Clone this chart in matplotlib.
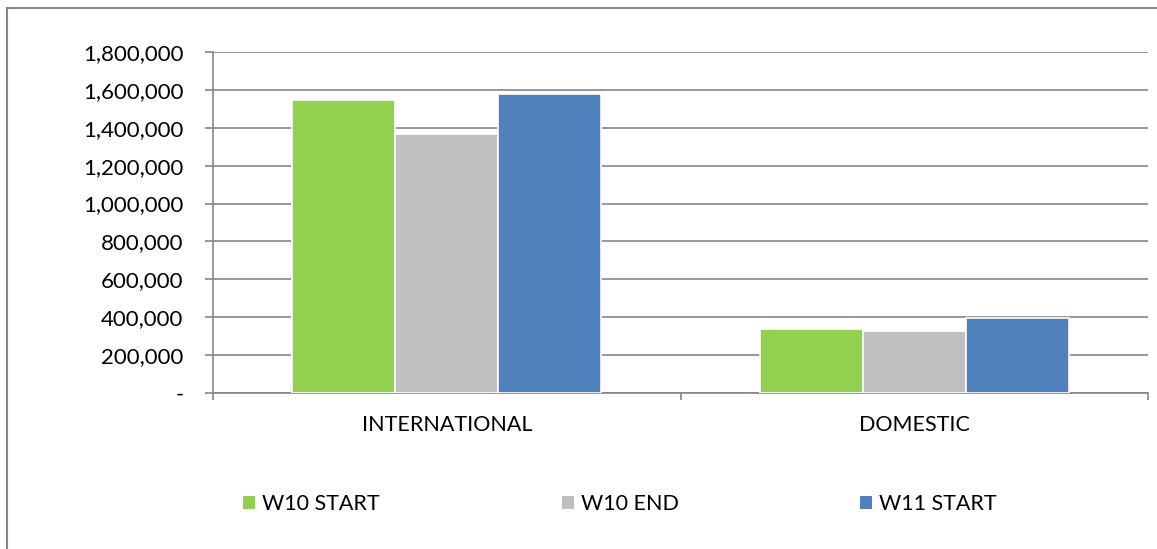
import numpy as np
import matplotlib.pyplot as plt
from matplotlib.lines import Line2D
from matplotlib.patches import Patch
from matplotlib.ticker import FuncFormatter

plt.rcParams['font.family'] = ['Lato', 'DejaVu Sans']

categories = ['INTERNATIONAL', 'DOMESTIC']
series_names = ['W10 START', 'W10 END', 'W11 START']
w10_start = [1546000, 339000]
w10_end = [1368000, 329000]
w11_start = [1580000, 394000]
colors = ['#92D050', '#BFBFBF', '#4F81BD']
yticks = np.arange(0, 1800001, 200000)

grid_col = '#868686'

fig = plt.figure(figsize=(11.57, 5.49), dpi=100)
ax = fig.add_axes([213 / 1157, 1 - 393 / 549, 935 / 1157, 341 / 549])

x = np.arange(len(categories))
w = 0.22
for i, (vals, col) in enumerate(zip([w10_start, w10_end, w11_start], colors)):
    ax.bar(x + (i - 1) * w, vals, w, color=col, edgecolor='white',
           linewidth=1.2, zorder=3)

ax.set_xlim(-0.5, 1.5)
ax.set_ylim(0, 1800000)
ax.set_yticks(yticks)
ax.yaxis.set_major_formatter(FuncFormatter(lambda v, p: '-' if v == 0 else f'{v:,.0f}'))
ax.grid(axis='y', color=grid_col, linewidth=1.2, zorder=0)
ax.set_axisbelow(True)

for s in ['top', 'right']:
    ax.spines[s].set_visible(False)
for s in ['left', 'bottom']:
    ax.spines[s].set_color(grid_col)
    ax.spines[s].set_linewidth(1.2)

ax.tick_params(axis='y', length=5.8, width=1.2, color=grid_col, labelsize=16,
               pad=15.5, labelcolor='black')
ax.set_xticks(x)
ax.set_xticklabels(categories)
ax.set_xticks([-0.5, 0.5, 1.5], minor=True)
ax.tick_params(axis='x', which='major', length=0, labelsize=15.5, pad=16)
ax.tick_params(axis='x', which='minor', length=5, width=1.2, color=grid_col)

# legend entries, placed one by one like the Excel legend
leg_x = [243 / 1157, 562 / 1157, 860 / 1157]
for name, col, lx in zip(series_names, colors, leg_x):
    fig.legend(handles=[Patch(facecolor=col, edgecolor='none')], labels=[name],
               loc='center left', bbox_to_anchor=(lx, 1 - 504 / 549),
               frameon=False, fontsize=15.5, handlelength=0.56,
               handleheight=0.56, handletextpad=0.33, borderpad=0,
               borderaxespad=0)

# outer chart border
fig.add_artist(Line2D([7 / 1157, 7 / 1157], [0, 1 - 8 / 549], color=grid_col, lw=1.5))
fig.add_artist(Line2D([7 / 1157, 1], [1 - 8 / 549, 1 - 8 / 549], color=grid_col, lw=1.5))

fig.savefig('out.png', dpi=100)
